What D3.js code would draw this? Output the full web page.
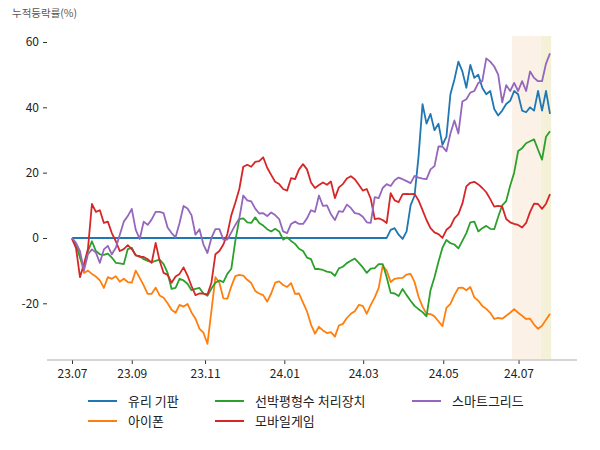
<!DOCTYPE html>
<html><head><meta charset="utf-8">
<script src="https://cdn.jsdelivr.net/npm/d3@7"></script>
<style>body{margin:0;background:#fff} svg{display:block}</style>
</head><body><svg id="c" width="600" height="450"></svg>
<script>
// ---- data ----
const seriesNames = ["유리 기판", "아이폰", "선박평형수 처리장치", "모바일게임", "스마트그리드"];
const seriesColors = ["#1f77b4", "#ff7f0e", "#2ca02c", "#d62728", "#9467bd"];

const glassSubstrate = [
  0,0,0,0,0,0,0,0,0,0, 0,0,0,0,0,0,0,0,0,0, 0,0,0,0,0,0,0,0,0,0, 0,0,0,0,0,0,0,0,0,0,
  0,0,0,0,0,0,0,0,0,0, 0,0,0,0,0,0,0,0,0,0, 0,0,0,0,0,0,0,0,0,0, 0,0,0,0,0,0,0,0,0,0,
  2.5,3,1,-0.3,2,10,13,25,41,35, 38,33,35,28.5,31,44,48.5,54,51,46,
  53,49,50,46,44,45,39.5,37.5,39,41, 42,45,44,39,38.5,40,39,45,39,45, 38];
const iphone = [
  0,-2,-5.5,-10.7,-10,-11,-11.8,-13,-15.3,-12,
  -12.5,-11.7,-13.4,-12.5,-13.5,-13.7,-10,-12.2,-14.5,-17.1,
  -17.1,-15.2,-17.6,-18.3,-20,-22,-22.9,-20.5,-21,-20.2,
  -22.8,-24.7,-27.8,-29,-32.4,-22.3,-12,-13.7,-18.5,-18.6,
  -14.8,-11.7,-11.3,-11.5,-12.8,-13.8,-16.2,-17,-17.5,-19.5,
  -17,-13.7,-13.3,-14.4,-15,-13.8,-17.1,-17,-19.8,-22.5,
  -26.5,-29.3,-27.2,-28.3,-29.1,-28.8,-30.2,-26.8,-26.3,-24.5,
  -23.2,-22.4,-20.5,-20.8,-23.2,-20.5,-18.2,-15.3,-8.5,-10,
  -13.5,-12.5,-12.3,-12.2,-11.2,-11,-13.5,-18,-21,-23.2,
  -23.3,-24,-25.5,-27,-21.4,-20.2,-17.5,-15.3,-15.2,-16,
  -15,-18.2,-19.2,-20.8,-21.7,-22.9,-24.8,-24.5,-24.7,-23.8,
  -22.9,-21.8,-22.9,-23.8,-24.8,-24.7,-26.5,-27.8,-26.9,-25,
  -23.2];
const ballastWater = [
  0,-2,-6,-9,-4,-1,-4,-5,-5.2,-4.8,
  -6,-7.6,-7.8,-8,-3.4,-3,-5.4,-5.5,-6.5,-7,
  -7.4,-7,-6.6,-8,-10.7,-15.6,-15.3,-12.5,-13,-14,
  -16,-15.6,-15.3,-17,-17.7,-15.5,-13.7,-13,-13.5,-11,
  -9.4,-0.9,5.8,6,4.8,4.6,6.3,4.6,3.8,2.7,
  2,2.8,2,-0.5,0.2,-0.9,-1.8,-3.3,-4,-6,
  -6.5,-9.5,-9.5,-9.8,-10.3,-10.5,-11.6,-9.3,-8.8,-7.7,
  -7,-6.3,-7.6,-9,-10.7,-9.4,-9.2,-8,-8,-12,
  -16.8,-17,-17.8,-15.6,-17.5,-19.2,-20.8,-21.8,-22.7,-24,
  -16,-12,-7.3,-3,-0.6,-1.6,-2,-3.2,-0.9,1.5,
  4.8,5,2,3,3.7,2.8,2.7,6.5,10,11.3,
  16,20,26.6,27.5,29,29.6,30.2,27,24,31,
  32.7];
const mobileGame = [
  -0.3,-3,-12,-8,-3.4,10.4,8,8.5,4.6,5,
  1.5,-1,-4,-3.4,-2.2,-3.4,-5.2,-5.8,-5.8,-6.5,
  -7.6,-1.5,-7,-10.7,-11.3,-13.7,-11.8,-11,-9,-11.5,
  -14.7,-17.5,-17,-17,-17.3,-13.7,-5,-4,-2,1.2,
  7,10.8,15,21.8,22.4,21.8,23.3,23.5,24.7,21.5,
  19.3,17.2,16.5,15,14.5,18.3,18,21,22.6,21,
  17,15.3,16.2,17,16.3,17.3,12.2,15.5,16.5,18.2,
  18.9,18,16.3,14.5,15,12,5.8,6,5.5,4.6,
  13.7,11.5,11,13.4,13.5,13.4,13.5,11.5,8.5,5.5,
  3,1.7,1.2,0,2.5,3.5,6,7.3,10.5,15.8,
  16.9,17.2,16.4,15.3,14,11.9,9.6,9.8,9.6,5.8,
  4.8,4.3,4,3.2,4.6,8,10.5,10.4,8.9,10.5,
  13.4];
const smartGrid = [
  0,-1.5,-4,-10,-5,-3.5,-4.5,-7.6,-3.5,-2.4,
  -5,-3,1,5,6.7,8.9,2.5,-0.3,5,4,
  5.7,8,8,7.6,3.2,1.5,0.2,4.6,9.8,9,
  7,1,2.7,-2,-4.6,0,2.7,2.7,-0.5,-0.5,
  1.7,4,6,13,11.5,11.2,9,7.5,7.6,6.7,
  7.8,7,5.8,2,1.5,4.3,5,4.3,4.3,6,
  8.5,8,13,9.8,10,7.3,5.5,8.2,8,10.2,
  9.2,7.6,7.4,6.5,4.8,4.6,12.5,12.2,15.3,16.5,
  15.9,17.7,18.5,18,17.4,16.8,19,18.5,18.2,18,
  21,22,28,28,26.5,32,36,32,41.8,42.5,
  44.5,45,47.5,48,55,54,52.5,50,41.5,46.8,
  45,47.5,45,48,45,51,49,48,48,53.4,
  56.5];
const seriesValues = [glassSubstrate, iphone, ballastWater, mobileGame, smartGrid];

// x axis: trading-day sample index, ticks at month starts
const xTickIdx = [0, 15, 33.4, 53.3, 73.1, 93.2, 112.1];
const xTickLabels = ["23.07", "23.09", "23.11", "24.01", "24.03", "24.05", "24.07"];
const yTicks = [-20, 0, 20, 40, 60];
// highlighted recent periods (sample index ranges)
const bandRanges = [[110.5, 117.7], [117.7, 120.3]];
const bandColors = ["#fbf1e6", "#f5f1d9"];

// ---- drawing ----
const svg = d3.select("#c");
const FONT = "'Noto Sans CJK KR', 'Noto Sans', sans-serif";
const nPts = glassSubstrate.length;
const x = d3.scaleLinear().domain([0, nPts - 1]).range([72, 550]);
const y = d3.scaleLinear().domain([-20, 60]).range([303.3, 42]);
const plotTop = 36, plotBottom = 360, axisLeft = 47, axisRight = 577;

// bands
svg.selectAll("rect.band").data(bandRanges).join("rect")
  .attr("x", d => x(d[0])).attr("width", d => x(d[1]) - x(d[0]))
  .attr("y", plotTop).attr("height", plotBottom - plotTop - 1)
  .attr("fill", (d, i) => bandColors[i]);

// title
svg.append("text").attr("x", 12).attr("y", 17)
  .attr("font-family", FONT).attr("font-size", 10.5).attr("fill", "#555")
  .text("누적등락률(%)");

// y axis (ticks + labels only)
const yAxis = d3.axisLeft(y).tickValues(yTicks).tickSize(4).tickPadding(4)
  .tickFormat(d => String(d));
const gy = svg.append("g").attr("transform", "translate(47,0)").call(yAxis);
gy.select(".domain").remove();
gy.selectAll("line").attr("stroke", "#333");
gy.selectAll("text").attr("font-family", FONT).attr("font-size", 12).attr("fill", "#222");

// x axis
const xAxis = d3.axisBottom(x).tickValues(xTickIdx).tickSize(4).tickPadding(5)
  .tickFormat((d, i) => xTickLabels[i]);
const gx = svg.append("g").attr("transform", `translate(0,${plotBottom})`).call(xAxis);
gx.select(".domain").remove();
gx.append("line").attr("x1", axisLeft).attr("x2", axisRight).attr("y1", 0).attr("y2", 0)
  .attr("stroke", "#aaa").attr("stroke-width", 1);
gx.selectAll(".tick line").attr("stroke", "#333");
gx.selectAll("text").attr("font-family", FONT).attr("font-size", 12).attr("fill", "#222");

// lines
const line = d3.line().x((d, i) => x(i)).y(d => y(d));
svg.selectAll("path.series").data(seriesValues).join("path")
  .attr("class", "series")
  .attr("d", line)
  .attr("fill", "none")
  .attr("stroke", (d, i) => seriesColors[i])
  .attr("stroke-width", 1.8)
  .attr("stroke-linejoin", "round");

// legend (3 columns, column-major)
const legX = [88, 215, 412], legY = [401, 421];
seriesNames.forEach((name, i) => {
  const col = Math.floor(i / 2), row = i % 2;
  const g = svg.append("g").attr("transform", `translate(${legX[col]},${legY[row]})`);
  g.append("line").attr("x1", 0).attr("x2", 29).attr("y1", 0).attr("y2", 0)
    .attr("stroke", seriesColors[i]).attr("stroke-width", 2);
  g.append("text").attr("x", 40).attr("y", 0).attr("dy", "0.35em")
    .attr("font-family", FONT).attr("font-size", 13).attr("fill", "#222").text(name);
});
</script>
</body></html>
